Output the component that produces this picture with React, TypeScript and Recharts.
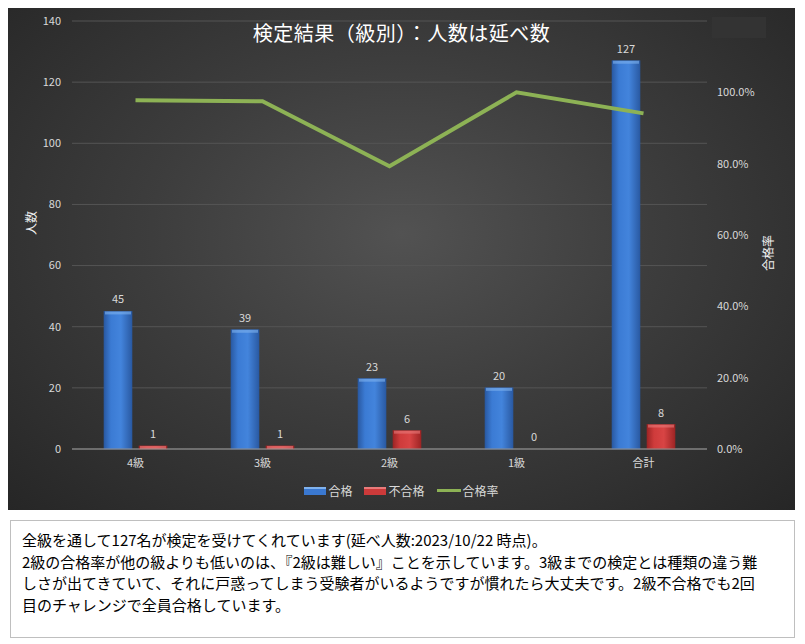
import { ComposedChart, Bar, Line, XAxis, YAxis, CartesianGrid, Legend, LabelList } from "recharts";

const grades = ["4級", "3級", "2級", "1級", "合計"];
const passed = [45, 39, 23, 20, 127];
const failed = [1, 1, 6, 0, 8];
const passRate = [0.978, 0.975, 0.793, 1.0, 0.941];
const countTicks = [0, 20, 40, 60, 80, 100, 120, 140];
const rateTicks = [0, 0.2, 0.4, 0.6, 0.8, 1.0];

const noteLines = [
  "全級を通して127名が検定を受けてくれています(延べ人数:2023/10/22 時点)。",
  "2級の合格率が他の級よりも低いのは、『2級は難しい』ことを示しています。3級までの検定とは種類の違う難",
  "しさが出てきていて、それに戸惑ってしまう受験者がいるようですが慣れたら大丈夫です。2級不合格でも2回",
  "目のチャレンジで全員合格しています。",
];

const data = grades.map((g, i) => ({
  name: g,
  pass: passed[i],
  fail: failed[i],
  rate: passRate[i],
}));

const FONT = '"Noto Sans CJK JP", "Noto Sans", sans-serif';
const TEXT = "#d9d9d9";

// bar with a light bevel on top, like Excel's 3D format
function bevelShape(fill: string, cap: string, edge: string) {
  return (props: any) => {
    const { x, y, width, height } = props;
    if (!height || height < 0.5) return <g />;
    const capH = Math.min(3, height);
    return (
      <g>
        <rect x={x} y={y} width={width} height={height} fill={fill} stroke={edge} strokeWidth={0.6} />
        <rect x={x + 1} y={y} width={width - 2} height={capH} fill={cap} opacity={0.6} />
      </g>
    );
  };
}

function LegendContent() {
  const items = [
    { label: "合格", kind: "bar", color: "#3a78d0", cap: "#7fb2ee" },
    { label: "不合格", kind: "bar", color: "#cc3a3a", cap: "#e87a7a" },
    { label: "合格率", kind: "line", color: "#8db255", cap: "" },
  ];
  return (
    <div style={{ display: "flex", justifyContent: "center", gap: 12, fontFamily: FONT, fontSize: 12, color: TEXT }}>
      {items.map((it) => (
        <div key={it.label} style={{ display: "flex", alignItems: "center", gap: 2 }}>
          {it.kind === "bar" ? (
            <div style={{ width: 22, height: 6, background: it.color, borderTop: `2px solid ${it.cap}` }} />
          ) : (
            <div style={{ width: 24, height: 3, background: it.color }} />
          )}
          <span>{it.label}</span>
        </div>
      ))}
    </div>
  );
}

export default function App() {
  return (
    <div style={{ position: "absolute", left: 0, top: 0, width: 805, height: 644, background: "#fff", fontFamily: FONT }}>
      <div
        style={{
          position: "absolute",
          left: 8,
          top: 8,
          width: 787,
          height: 502,
          background: "radial-gradient(ellipse at 50% 45%, #525252 0%, #3d3d3d 45%, #262626 100%)",
        }}
      >
        <ComposedChart
          width={787}
          height={502}
          data={data}
          margin={{ top: 13, right: 0, bottom: 8, left: 0 }}
          barSize={28}
          barGap={7}
        >
          <defs>
            <linearGradient id="blueGrad" x1="0" y1="0" x2="1" y2="0">
              <stop offset="0%" stopColor="#2a5aa3" />
              <stop offset="25%" stopColor="#3b7bd4" />
              <stop offset="60%" stopColor="#4384dc" />
              <stop offset="100%" stopColor="#2a5aa3" />
            </linearGradient>
            <linearGradient id="redGrad" x1="0" y1="0" x2="1" y2="0">
              <stop offset="0%" stopColor="#9e2525" />
              <stop offset="25%" stopColor="#cf3b3b" />
              <stop offset="60%" stopColor="#d84444" />
              <stop offset="100%" stopColor="#9e2525" />
            </linearGradient>
          </defs>
          <CartesianGrid yAxisId="left" vertical={false} stroke="#555555" strokeWidth={1} />
          <XAxis
            dataKey="name"
            height={33}
            tickLine={false}
            axisLine={{ stroke: "#9a9a9a" }}
            tick={{ fill: TEXT, fontSize: 11, fontFamily: FONT }}
            tickMargin={4}
          />
          <YAxis
            yAxisId="left"
            orientation="left"
            width={64}
            domain={[0, 140]}
            ticks={countTicks}
            axisLine={false}
            tickLine={false}
            tickMargin={5}
            tick={{ fill: TEXT, fontSize: 11, fontFamily: FONT }}
            label={{ value: "人数", angle: -90, position: "insideLeft", offset: 24, fill: "#f2f2f2", fontSize: 12, fontFamily: FONT }}
          />
          <YAxis
            yAxisId="right"
            orientation="right"
            width={88}
            domain={[0, 1.2]}
            ticks={rateTicks}
            axisLine={false}
            tickLine={false}
            tickMargin={4}
            tickFormatter={(v: number) => `${(v * 100).toFixed(1)}%`}
            tick={{ fill: TEXT, fontSize: 11, fontFamily: FONT }}
            label={{ value: "合格率", angle: -90, position: "insideRight", offset: 26, fill: "#f2f2f2", fontSize: 12, fontFamily: FONT }}
          />
          <Legend verticalAlign="bottom" height={20} content={() => <LegendContent />} />
          <Bar
            yAxisId="left"
            dataKey="pass"
            name="合格"
            fill="url(#blueGrad)"
            shape={bevelShape("url(#blueGrad)", "#7fb2ee", "#2a5aa3")}
            isAnimationActive={false}
          >
            <LabelList dataKey="pass" position="top" offset={8} fill={TEXT} fontSize={11} fontFamily={FONT} />
          </Bar>
          <Bar
            yAxisId="left"
            dataKey="fail"
            name="不合格"
            fill="url(#redGrad)"
            minPointSize={0.2}
            shape={bevelShape("url(#redGrad)", "#e87a7a", "#9e2525")}
            isAnimationActive={false}
          >
            <LabelList dataKey="fail" position="top" offset={8} fill={TEXT} fontSize={11} fontFamily={FONT} />
          </Bar>
          <Line
            yAxisId="right"
            dataKey="rate"
            name="合格率"
            stroke="#8db255"
            strokeWidth={4}
            dot={false}
            activeDot={false}
            isAnimationActive={false}
          />
        </ComposedChart>
        <div
          style={{
            position: "absolute",
            left: 0,
            right: 0,
            top: 10,
            textAlign: "center",
            color: "#ffffff",
            fontSize: 20,
            letterSpacing: 0.5,
            fontFamily: FONT,
          }}
        >
          検定結果（級別）：人数は延べ数
        </div>
        <div style={{ position: "absolute", left: 704, top: 9, width: 54, height: 21, background: "#333333" }} />
      </div>
      <div
        style={{
          position: "absolute",
          left: 10,
          top: 520,
          width: 785,
          height: 118,
          border: "1px solid #bfbfbf",
          boxSizing: "border-box",
          padding: "8px 0 0 11px",
          fontSize: 15,
          lineHeight: "21.5px",
          color: "#000",
          fontFamily: FONT,
          whiteSpace: "nowrap",
        }}
      >
        {noteLines.map((l, i) => (
          <div key={i}>{l}</div>
        ))}
      </div>
    </div>
  );
}
